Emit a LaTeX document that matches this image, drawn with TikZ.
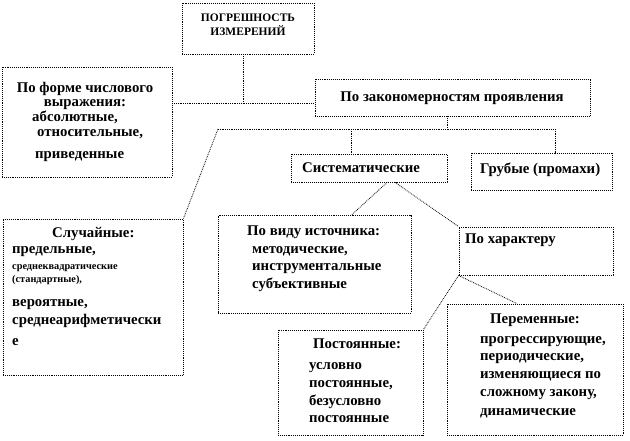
\documentclass[tikz,border=0pt]{standalone}
\usepackage{fontspec}
\setmainfont{Liberation Serif}
\begin{document}
\begin{tikzpicture}[x=1pt,y=-1pt,
  box/.style={draw=black,line width=0.9pt,densely dotted,inner sep=0pt,fill=white},
  conn/.style={draw=black,line width=0.8pt,densely dotted},
  txt/.style={inner sep=0pt,font=\fontsize{14.8}{17}\selectfont\bfseries,anchor=base west},
  ctxt/.style={txt,anchor=base},
  stxt/.style={txt,font=\fontsize{10.3}{12}\selectfont\bfseries},
  htxt/.style={ctxt,font=\fontsize{11.5}{13}\selectfont\bfseries}]
\useasboundingbox (0,0) rectangle (630,440);
% boxes
\node[box,minimum width=132pt,minimum height=51pt] (top) at (248,28.5) {};
\node[box,minimum width=170pt,minimum height=110pt] (forma) at (87,122) {};
\node[box,minimum width=275pt,minimum height=37pt] (zak) at (452.5,97.5) {};
\node[box,minimum width=156pt,minimum height=28pt] (sist) at (369,168) {};
\node[box,minimum width=141pt,minimum height=37pt] (grub) at (541.5,171.5) {};
\node[box,minimum width=180pt,minimum height=156pt] (sluch) at (93,297) {};
\node[box,minimum width=193pt,minimum height=98pt] (vid) at (314.5,264) {};
\node[box,minimum width=154pt,minimum height=48pt] (har) at (536,251) {};
\node[box,minimum width=145pt,minimum height=105pt] (post) at (350.5,382.5) {};
\node[box,minimum width=176pt,minimum height=131pt] (per) at (535,369.5) {};
% connectors
\coordinate (j1) at (243,103);
\coordinate (j2) at (447,129);
\coordinate (jl) at (218,129);
\coordinate (jr) at (555,129);
\coordinate (j3) at (351,129);
\draw[conn] (top.south -| j1) -- (j1);
\draw[conn] (forma.east |- j1) -- (zak.west |- j1);
\draw[conn] (zak.south -| j2) -- (j2);
\draw[conn] (jl) -- (jr);
\draw[conn] (jl) -- (sluch.north east);
\draw[conn] (j3) -- (sist.north -| j3);
\draw[conn] (jr) -- (grub.north -| jr);
\draw[conn] ([xshift=18pt]sist.south) -- ([xshift=37.5pt]vid.north);
\draw[conn] ([xshift=26pt]sist.south) -- (har.north west);
\draw[conn] (har.south west) -- (post.north east);
\draw[conn] (har.south west) -- ([xshift=-18pt]per.north);
% texts
\node[htxt] (t1) at (248,21) {ПОГРЕШНОСТЬ};
\node[htxt] (t2) at (248,35) {ИЗМЕРЕНИЙ};
\node[ctxt] (f1) at (85,92) {По форме числового};
\node[ctxt] (f2) at (85,106) {выражения:};
\node[txt] (f3) at (32,121) {абсолютные,};
\node[txt] (f4) at (37,136) {относительные,};
\node[txt] (f5) at (35,158) {приведенные};
\node[ctxt] (z1) at (452,101) {По закономерностям проявления};
\node[txt] (s1) at (302,172) {Систематические};
\node[txt] (g1) at (480,173) {Грубые (промахи)};
\node[txt] (c1) at (52,237) {Случайные:};
\node[txt] (c2) at (12,253) {предельные,};
\node[stxt] (c3) at (12,269) {среднеквадратические};
\node[stxt] (c4) at (12,282) {(стандартные),};
\node[txt] (c5) at (12,306) {вероятные,};
\node[txt] (c6) at (12,324) {среднеарифметически};
\node[txt] (c7) at (12,345) {е};
\node[txt] (v1) at (247,235) {По виду источника:};
\node[txt] (v2) at (252,253) {методические,};
\node[txt] (v3) at (252,270) {инструментальные};
\node[txt] (v4) at (252,288) {субъективные};
\node[txt] (h1) at (465,243) {По характеру};
\node[txt] (p1) at (313,348) {Постоянные:};
\node[txt] (p2) at (309,369) {условно};
\node[txt] (p3) at (309,387) {постоянные,};
\node[txt] (p4) at (309,405) {безусловно};
\node[txt] (p5) at (309,422) {постоянные};
\node[txt] (r1) at (490,323) {Переменные:};
\node[txt] (r2) at (480,343) {прогрессирующие,};
\node[txt] (r3) at (480,360) {периодические,};
\node[txt] (r4) at (480,378) {изменяющиеся по};
\node[txt] (r5) at (480,396) {сложному закону,};
\node[txt] (r6) at (480,415) {динамические};
\end{tikzpicture}
\end{document}
